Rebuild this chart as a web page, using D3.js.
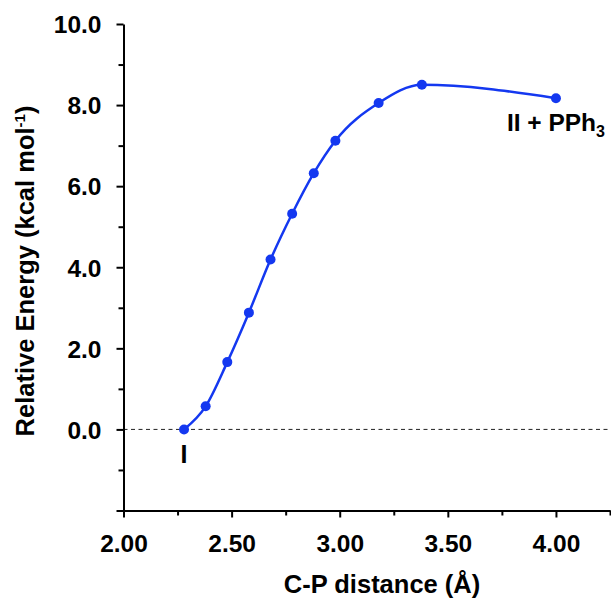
<!DOCTYPE html>
<html>
<head>
<meta charset="utf-8">
<script src="https://cdn.jsdelivr.net/npm/d3@7/dist/d3.min.js"></script>
<style>
  body { margin: 0; background: #fff; }
  text { font-family: "Liberation Sans", Arial, sans-serif; font-weight: bold; fill: #000; }
</style>
</head>
<body>
<div id="chart"></div>
<script>
// C-P distance (Å) vs relative energy (kcal/mol)
const distances = [2.28, 2.38, 2.48, 2.58, 2.68, 2.78, 2.88, 2.98, 3.18, 3.38, 4.00]
const energies = [0.00, 0.57, 1.66, 2.88, 4.19, 5.32, 6.32, 7.12, 8.05, 8.50, 8.17]

const xTicks = [2.00, 2.25, 2.50, 2.75, 3.00, 3.25, 3.50, 3.75, 4.00, 4.25]
const xLabels = ["2.00", "", "2.50", "", "3.00", "", "3.50", "", "4.00", ""]
const yTicks = [-2, -1, 0, 1, 2, 3, 4, 5, 6, 7, 8, 9, 10]
const yLabels = ["", "", "0.0", "", "2.0", "", "4.0", "", "6.0", "", "8.0", "", "10.0"]

const data = distances.map((d, i) => ({x: d, y: energies[i]}))

const width = 611, height = 598
const blue = "#1438f0"

let svg = d3.select("#chart").append("svg")
  .attr("width", width)
  .attr("height", height)

let x = d3.scaleLinear().domain([2, 4.25]).range([123.5, 610])
let y = d3.scaleLinear().domain([-2, 10]).range([510.5, 24])

// dashed zero line
svg.append("line")
  .attr("x1", x(2)).attr("x2", width)
  .attr("y1", y(0)).attr("y2", y(0))
  .attr("stroke", "#222")
  .attr("stroke-width", 1)
  .attr("stroke-dasharray", "4,3.5")

// y axis
let yAxis = svg.append("g")
  .attr("transform", `translate(${x(2)},0)`)
  .call(d3.axisLeft(y)
    .tickValues(yTicks)
    .tickSize(7)
    .tickSizeOuter(0)
    .tickPadding(15)
    .tickFormat((d, i) => yLabels[i]))
yAxis.selectAll("line").attr("stroke-width", 2)
  .filter(d => d % 2 !== 0).attr("x2", -5)
yAxis.select(".domain").attr("stroke-width", 2)
yAxis.selectAll("text")
  .attr("dy", "0.36em")
  .style("font-size", "24.5px")

// x axis
let xAxis = svg.append("g")
  .attr("transform", `translate(0,${y(-2)})`)
  .call(d3.axisBottom(x)
    .tickValues(xTicks)
    .tickSize(7)
    .tickSizeOuter(0)
    .tickPadding(17)
    .tickFormat((d, i) => xLabels[i]))
xAxis.selectAll("line").attr("stroke-width", 2)
  .filter((d, i) => i % 2 === 1).attr("y2", 5)
xAxis.select(".domain").attr("stroke-width", 2)
xAxis.selectAll("text").style("font-size", "24.5px")

// axis titles
svg.append("text")
  .attr("x", 382).attr("y", 593)
  .attr("text-anchor", "middle")
  .style("font-size", "25.5px")
  .text("C-P distance (Å)")

let yt = svg.append("text")
  .attr("transform", "translate(34,271) rotate(-90)")
  .attr("text-anchor", "middle")
  .style("font-size", "25.5px")
yt.append("tspan").text("Relative Energy (kcal mol")
yt.append("tspan").attr("dy", -9).style("font-size", "15px").text("-1")
yt.append("tspan").attr("dy", 9).text(")")

// curve + points
let line = d3.line()
  .x(d => x(d.x))
  .y(d => y(d.y))
  .curve(d3.curveMonotoneX)

svg.append("path")
  .datum(data)
  .attr("d", line)
  .attr("fill", "none")
  .attr("stroke", blue)
  .attr("stroke-width", 2.5)

svg.selectAll("circle")
  .data(data)
  .enter().append("circle")
  .attr("cx", d => x(d.x))
  .attr("cy", d => y(d.y))
  .attr("r", 5)
  .attr("fill", blue)

// state labels
let first = data[0], last = data[data.length - 1]
svg.append("text")
  .attr("x", x(first.x)).attr("y", y(first.y) + 34)
  .attr("text-anchor", "middle")
  .style("font-size", "25px")
  .text("I")

let lab = svg.append("text")
  .attr("x", x(last.x)).attr("y", y(last.y) + 33)
  .attr("text-anchor", "middle")
  .style("font-size", "24.5px")
lab.append("tspan").text("II + PPh")
lab.append("tspan").attr("dy", 6).style("font-size", "16px").text("3")
</script>
</body>
</html>
